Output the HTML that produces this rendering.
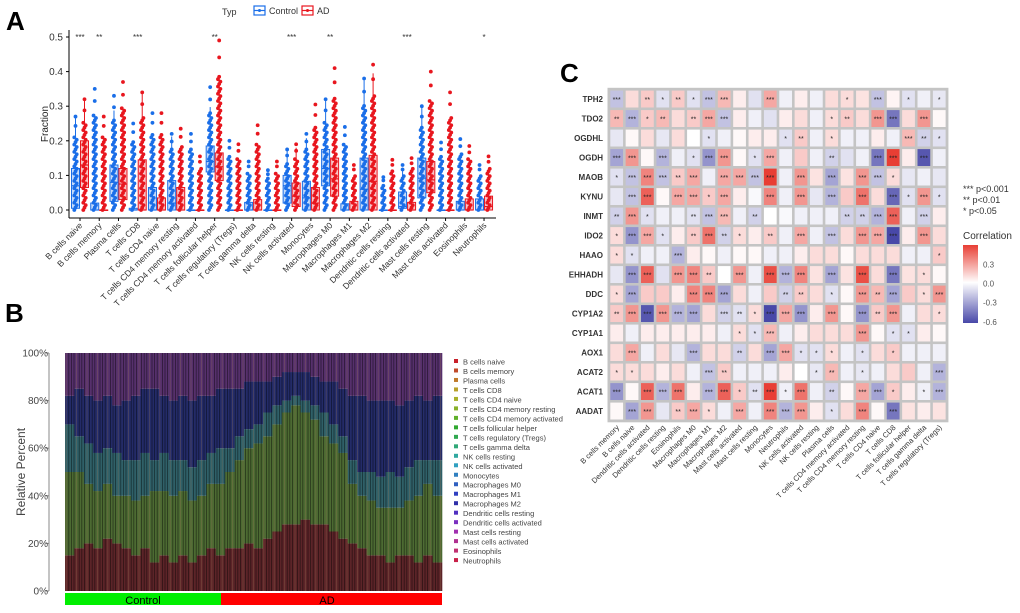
<!DOCTYPE html>
<html><head><meta charset="utf-8"><style>
body{margin:0;background:#fff}
svg{display:block;font-family:"Liberation Sans",Arial,sans-serif}
</style></head><body>
<svg id="fig" width="1020" height="613" viewBox="0 0 1020 613">
<text x="6" y="30" font-size="26" font-weight="bold">A</text>
<text x="5" y="322" font-size="26" font-weight="bold">B</text>
<text x="560" y="82" font-size="26" font-weight="bold">C</text>
<g id="pa"></g>
<g id="pb"></g>
<g id="pc"></g>
</svg>
<script>
const NS="http://www.w3.org/2000/svg";
function mk(p,t,a){const e=document.createElementNS(NS,t);for(const k in a)e.setAttribute(k,a[k]);p.appendChild(e);return e;}

// ---------- Panel A data ----------
const cellTypes=["B cells naive","B cells memory","Plasma cells","T cells CD8","T cells CD4 naive","T cells CD4 memory resting","T cells CD4 memory activated","T cells follicular helper","T cells regulatory (Tregs)","T cells gamma delta","NK cells resting","NK cells activated","Monocytes","Macrophages M0","Macrophages M1","Macrophages M2","Dendritic cells resting","Dendritic cells activated","Mast cells resting","Mast cells activated","Eosinophils","Neutrophils"];
const ctrlQ1=[.005,0,.025,0,0,0,0,.11,0,0,0,.02,0,.07,0,0,0,.005,.035,0,0,0];
const ctrlMed=[.07,0,.08,0,0,.02,0,.14,0,0,0,.07,.035,.12,0,.06,0,.01,.092,0,0,0];
const ctrlQ3=[.12,.02,.13,.005,.065,.085,0,.185,0,.022,0,.1,.083,.175,.018,.15,0,.052,.15,0,.025,.032];
const ctrlMax=[.27,.35,.33,.25,.28,.22,.22,.355,.2,.14,.115,.175,.22,.32,.24,.38,.095,.13,.3,.195,.205,.13];
const adQ1=[.065,0,.03,0,0,0,0,.085,0,0,0,.01,0,.04,0,0,0,0,.05,0,0,0];
const adMed=[.13,0,.075,0,0,0,0,.125,0,0,0,.04,.02,.09,0,.083,0,0,.087,0,0,.01];
const adQ3=[.2,0,.12,.145,.035,.065,0,.165,0,.03,0,.078,.065,.15,.025,.158,0,.022,.14,0,.032,.04];
const adMax=[.32,.27,.37,.34,.28,.235,.155,.49,.19,.245,.14,.19,.305,.41,.13,.42,.145,.15,.4,.34,.185,.155];
const sigLabels=["***","**","","***","","","","**","","","","***","","**","","","","***","","","","*"];
const yTicksA=[0,0.1,0.2,0.3,0.4,0.5];

const pa=document.getElementById('pa');
const aX=i=>80+i*19.24, aY=v=>210-v*346;
let e=mk(pa,'line',{x1:69,y1:30,x2:69,y2:218,stroke:'#000','stroke-width':1});

e=mk(pa,'line',{x1:69,y1:218,x2:496,y2:218,stroke:'#000','stroke-width':1});

yTicksA.forEach(v=>{
 mk(pa,'line',{x1:66,y1:aY(v),x2:69,y2:aY(v),stroke:'#000'});
 const t=mk(pa,'text',{x:63,y:aY(v)+3.5,'font-size':10,'text-anchor':'end',fill:'#333'});t.textContent=v.toFixed(1);
 
});
e=mk(pa,'text',{x:48,y:124,'font-size':10,'text-anchor':'middle',transform:'rotate(-90 48 124)',fill:'#222'});e.textContent='Fraction';

e=mk(pa,'text',{x:222,y:15,'font-size':9,fill:'#333'});e.textContent='Typ';

[['Control','#1a6ee8',254],['AD','#e8161e',302]].forEach(([n,c,x])=>{
 const g=mk(pa,'g',{});
 mk(g,'rect',{x:x,y:6,width:11,height:9,fill:'none',stroke:c,'stroke-width':1.2});
 mk(g,'line',{x1:x,y1:10.5,x2:x+11,y2:10.5,stroke:c,'stroke-width':1.2});
 mk(g,'circle',{cx:x+5.5,cy:10.5,r:1.5,fill:c});
 const t=mk(g,'text',{x:x+15,y:14,'font-size':9,fill:'#333'});t.textContent=n;
});
function drawBox(cx,q1,md,q3,mx,col,fill,name){
 const g=mk(pa,'g',{});
 const iqr=q3-q1; const wh=Math.min(mx,q3+1.5*iqr);
 let k=0;
 for(let v=0;v<=mx*0.8;v+=0.007){mk(g,'circle',{cx:cx+((k%3)-1)*1.2,cy:aY(v),r:1.9,fill:col});k++;}
 mk(g,'circle',{cx:cx,cy:aY(mx),r:1.9,fill:col});
 mk(g,'circle',{cx:cx,cy:aY(mx*0.9),r:1.9,fill:col});
 mk(g,'line',{x1:cx,y1:aY(q3),x2:cx,y2:aY(wh),stroke:col,'stroke-width':1});
 mk(g,'rect',{x:cx-4,y:aY(q3),width:8,height:Math.max(0.5,aY(q1)-aY(q3)),fill:fill,stroke:col,'stroke-width':1});
 mk(g,'line',{x1:cx-4,y1:aY(md),x2:cx+4,y2:aY(md),stroke:col,'stroke-width':1.2});
}
cellTypes.forEach((n,i)=>{
 const cx=aX(i);
 drawBox(cx-4.5,ctrlQ1[i],ctrlMed[i],ctrlQ3[i],ctrlMax[i],'#1a6ee8','rgba(26,110,232,0.25)','box-control-'+i);
 drawBox(cx+4.5,adQ1[i],adMed[i],adQ3[i],adMax[i],'#e8161e','rgba(232,22,30,0.25)','box-ad-'+i);
 mk(pa,'line',{x1:cx,y1:218,x2:cx,y2:221,stroke:'#000'});
 const t=mk(pa,'text',{x:cx+3,y:226,'font-size':8.6,'text-anchor':'end',fill:'#333',transform:`rotate(-45 ${cx+3} 226)`});t.textContent=n;
 
 if(sigLabels[i]){const s=mk(pa,'text',{x:cx,y:40,'font-size':8,'text-anchor':'middle',fill:'#333'});s.textContent=sigLabels[i];
 }
});

// ---------- Panel B data ----------
const bTop=[15,18,20,18,22,20,18,15,18,12,15,12,15,12,15,18,15,18,18,20,18,22,25,28,28,30,28,28,25,22,20,18,15,15,12,15,15,12,15,12];
const tTop=[50,50,45,42,45,40,40,38,40,42,42,40,42,38,40,45,45,50,55,60,62,65,70,75,78,75,72,65,62,58,45,40,38,35,35,35,38,40,45,40];
const nkTop=[70,65,62,58,60,58,55,55,58,55,58,55,55,52,55,58,60,60,65,68,70,75,78,80,82,80,78,75,70,65,55,50,50,48,50,48,52,55,55,55];
const macTop=[82,85,82,80,82,78,80,82,85,85,82,80,82,80,82,82,85,85,85,88,88,88,90,92,92,92,90,88,88,85,82,82,80,80,80,78,80,82,80,82];
const yTicksB=[0,20,40,60,80,100];
const legendB=["B cells naive","B cells memory","Plasma cells","T cells CD8","T cells CD4 naive","T cells CD4 memory resting","T cells CD4 memory activated","T cells follicular helper","T cells regulatory (Tregs)","T cells gamma delta","NK cells resting","NK cells activated","Monocytes","Macrophages M0","Macrophages M1","Macrophages M2","Dendritic cells resting","Dendritic cells activated","Mast cells resting","Mast cells activated","Eosinophils","Neutrophils"];
const legendCol=["#c8202a","#c04a2a","#c07a2a","#b8a02a","#a8b02a","#88b02a","#60b02a","#30a830","#30a850","#30a878","#30a8a0","#30a0c0","#3080c0","#3060c0","#3040c0","#3030a8","#5030c0","#7a30c0","#a030b0","#b03090","#c03070","#c82048"];
const pb=document.getElementById('pb');
const bx0=65,bx1=442,bW=(bx1-bx0)/bTop.length;
const bY=v=>591-v*2.38;
const segCol=["#5c2428","#4c6a32","#2f6068","#232b68","#56306c"];
bTop.forEach((b,i)=>{
 const bounds=[0,b,tTop[i],nkTop[i],macTop[i],100];
 for(let s=0;s<5;s++){
  const r=mk(pb,'rect',{x:bx0+i*bW,y:bY(bounds[s+1]),width:bW+0.3,height:bY(bounds[s])-bY(bounds[s+1]),fill:segCol[s]});
  
 }
});
let q=0;
for(let x=bx0+1.2;x<bx1;x+=2.6){mk(pb,'line',{x1:x,y1:bY(100),x2:x,y2:bY(0),stroke:(q%4===0)?'rgba(160,120,90,0.35)':'rgba(0,0,0,0.5)','stroke-width':0.8});q++;}
e=mk(pb,'line',{x1:49,y1:bY(100),x2:49,y2:bY(0),stroke:'#888'});

yTicksB.forEach(v=>{
 mk(pb,'line',{x1:46,y1:bY(v),x2:49,y2:bY(v),stroke:'#888'});
 const t=mk(pb,'text',{x:48,y:bY(v)+3.5,'font-size':10,'text-anchor':'end',fill:'#444'});t.textContent=v+'%';
 
});
e=mk(pb,'text',{x:25,y:472,'font-size':12,'text-anchor':'middle',fill:'#444',transform:'rotate(-90 25 472)'});e.textContent='Relative Percent';

e=mk(pb,'rect',{x:65,y:593,width:156,height:12,fill:'#00ee00'});
e=mk(pb,'rect',{x:221,y:593,width:221,height:12,fill:'#ff0000'});
e=mk(pb,'text',{x:143,y:604,'font-size':11,'text-anchor':'middle'});e.textContent='Control';
e=mk(pb,'text',{x:327,y:604,'font-size':11,'text-anchor':'middle'});e.textContent='AD';
legendB.forEach((n,i)=>{
 const y=362+i*9.48;
 const g=mk(pb,'g',{});
 mk(g,'rect',{x:454,y:y-3,width:4,height:4,fill:legendCol[i]});
 const t=mk(g,'text',{x:463,y:y+2.5,'font-size':7.5,fill:'#444'});t.textContent=n;
});

// ---------- Panel C data ----------
const genes=["TPH2","TDO2","OGDHL","OGDH","MAOB","KYNU","INMT","IDO2","HAAO","EHHADH","DDC","CYP1A2","CYP1A1","AOX1","ACAT2","ACAT1","AADAT"];
const cols=["B cells memory","B cells naive","Dendritic cells activated","Dendritic cells resting","Eosinophils","Macrophages M0","Macrophages M1","Macrophages M2","Mast cells activated","Mast cells resting","Monocytes","Neutrophils","NK cells activated","NK cells resting","Plasma cells","T cells CD4 memory activated","T cells CD4 memory resting","T cells CD4 naive","T cells CD8","T cells follicular helper","T cells gamma delta","T cells regulatory (Tregs)"];
const corr=[
[-.2,.1,.15,-.1,.15,-.1,-.2,.2,.05,-.1,.25,-.05,.05,-.05,.1,.1,.08,-.2,.03,-.1,-.05,-.08],
[.2,-.25,.15,.2,.1,.15,.25,-.2,.05,-.05,-.1,.05,.1,-.05,.1,.15,.1,.3,-.45,.1,.3,.02],
[-.08,.02,.1,-.08,.1,0,-.1,-.05,.02,.05,.05,-.1,.15,-.05,.1,-.05,-.05,.05,-.05,.2,-.15,-.1],
[-.3,.3,.02,-.25,-.05,-.1,-.35,.3,.02,-.1,.25,-.05,.15,-.05,-.15,-.1,-.05,-.45,.55,.05,-.55,-.05],
[-.1,-.2,.35,-.2,.15,.25,-.05,.25,.25,-.2,.55,-.05,.3,.08,-.3,.08,.3,-.2,.1,-.08,-.05,-.08],
[-.08,-.2,.45,.02,.25,.25,.15,.25,.05,-.02,.35,-.05,.3,-.08,-.25,.15,.4,.1,-.5,-.1,.3,-.1],
[-.15,.3,-.1,-.05,-.05,-.1,-.2,.2,-.05,-.15,0,-.02,-.05,-.05,-.05,-.15,-.15,-.25,.45,-.05,-.15,.05],
[.1,-.35,.25,-.1,.05,.15,.4,-.15,.1,.05,.15,-.05,.25,-.05,-.2,.1,.3,.25,-.6,.05,.3,.1],
[.1,-.1,-.05,-.05,-.25,.05,.02,-.05,.02,.02,-.05,-.05,.05,.1,.1,.02,.1,.1,.1,-.05,-.05,.15],
[-.08,-.35,.45,-.1,.3,.35,.15,0,.3,-.05,.5,-.25,.35,.08,-.3,.08,.5,.1,-.45,.08,.1,.02],
[.1,-.3,.15,.15,.05,.35,.35,-.3,.1,-.05,.15,-.15,.15,.1,-.1,.02,.3,.2,-.3,.15,.1,.3],
[.15,.3,-.55,.3,-.25,-.3,.1,-.15,-.1,.1,-.6,.25,-.35,.05,.3,.02,-.35,.15,.3,-.05,.1,.1],
[.05,-.05,.05,.05,.05,.05,.05,-.05,.1,-.1,.2,-.05,.05,.1,.1,.1,.3,.02,-.1,-.1,.05,.02],
[.1,.25,-.05,.1,-.08,-.25,.1,.1,-.15,.1,-.3,.25,-.1,-.1,.1,-.05,-.1,.1,.15,-.05,-.05,-.05],
[.1,.1,.1,.05,.1,-.05,-.2,.15,-.05,-.05,-.05,.05,0,-.08,.2,-.05,-.08,-.05,.1,.15,-.05,-.25],
[-.35,.02,.45,-.25,.4,.05,-.25,.45,.15,-.1,.55,-.05,.4,-.05,-.15,.02,.25,-.3,.15,.05,-.05,-.25],
[.02,-.3,.3,-.08,.15,.25,.1,-.05,.25,-.05,.35,-.25,.3,.05,-.1,.1,.35,.02,-.45,.08,.05,.08]];
const stars=[
"*** - ** * ** * *** *** - - *** - - - - * - *** - * - *",
"** *** * ** - ** *** *** - - - - - - * ** - *** *** - *** -",
"- - - - - - * - - - - * ** - * - - - - *** ** *",
"*** *** - *** - * *** *** - * *** - - - ** - - *** *** - *** -",
"* *** *** *** ** *** - *** *** *** *** - *** - *** - *** *** * - - -",
"- *** *** - *** *** * *** - - *** - *** - *** - *** - *** * *** *",
"** *** * - - ** *** *** - ** - - - - - ** ** *** *** - *** -",
"* *** *** * - ** *** ** * - ** - *** - *** - *** *** *** - *** -",
"* * - - *** - - - - - - - - - - - - - - - - *",
"- *** *** - *** *** ** - *** - *** *** *** - *** - *** - *** - * -",
"* *** - - - *** *** *** - - - ** ** - * - *** ** *** - * ***",
"** *** *** *** *** *** - *** ** * *** *** *** - *** - *** ** *** - - *",
"- - - - - - - - * * *** - - - - - *** - * * - -",
"- *** - - - *** - - ** - *** *** * * * - * - * - - -",
"* * - - - - *** ** - - - - - * ** - * - - - - ***",
"*** - *** *** *** - *** *** * ** *** * *** - ** - *** *** * - * ***",
"- *** *** - ** *** * - *** - *** *** *** - * - *** - *** - - -"].map(s=>s.split(' '));
const cbTicks=[0.3,0.0,-0.3,-0.6];

const pc=document.getElementById('pc');
const cx0=609,cy0=89.3,cw=15.36,ch=19.5;
function corrColor(v){
 const lerp=(a,b,t)=>a.map((x,i)=>Math.round(x+(b[i]-x)*t));
 let c;
 if(v>=0){c=lerp([255,255,255],[232,62,52],Math.min(1,v/0.55));}
 else{c=lerp([255,255,255],[72,72,168],Math.min(1,-v/0.6));}
 return `rgb(${c})`;
}
e=mk(pc,'rect',{x:cx0-1.5,y:cy0-1.5,width:cols.length*cw+3,height:genes.length*ch+3,fill:'#c4c4c4'});

genes.forEach((g,r)=>{
 const t=mk(pc,'text',{x:cx0-6,y:cy0+r*ch+ch/2+3,'font-size':8,'text-anchor':'end',fill:'#333','font-weight':'bold'});t.textContent=g;
 
 cols.forEach((c,k)=>{
  const x=cx0+k*cw,y=cy0+r*ch;
  const cell=mk(pc,'rect',{x:x+1.3,y:y+1.3,width:cw-2.6,height:ch-2.6,fill:corrColor(corr[r][k])});
  
  const s=stars[r][k];
  if(s&&s!=='-'){const st=mk(pc,'text',{x:x+cw/2,y:y+ch/2+3,'font-size':7,'text-anchor':'middle',fill:'#222'});st.textContent=s;}
 });
});
cols.forEach((c,k)=>{
 const x=cx0+k*cw+cw/2+3;
 const t=mk(pc,'text',{x:x,y:428,'font-size':7.5,'text-anchor':'end',fill:'#333',transform:`rotate(-45 ${x} 428)`});t.textContent=c;
 
});
[['***','p<0.001',192],['**','p<0.01',203],['*','p<0.05',214]].forEach(([a,b,y],i)=>{
 const t=mk(pc,'text',{x:963,y:y,'font-size':9,fill:'#333'});t.textContent=a+'  '+b;
 
});
e=mk(pc,'text',{x:963,y:239,'font-size':10,fill:'#333'});e.textContent='Correlation';

const defs=mk(pc,'defs',{});
const lg=mk(defs,'linearGradient',{id:'cg',x1:0,y1:0,x2:0,y2:1});
mk(lg,'stop',{offset:'0%','stop-color':'#e83e34'});
mk(lg,'stop',{offset:'48%','stop-color':'#ffffff'});
mk(lg,'stop',{offset:'100%','stop-color':'#4848a8'});
e=mk(pc,'rect',{x:963,y:245,width:15,height:78,fill:'url(#cg)'});

const cbY=v=>283.5-v*64;
cbTicks.forEach(v=>{
 const t=mk(pc,'text',{x:983,y:cbY(v)+3,'font-size':8,fill:'#555'});t.textContent=v.toFixed(1);
 
});
</script>
</body></html>
